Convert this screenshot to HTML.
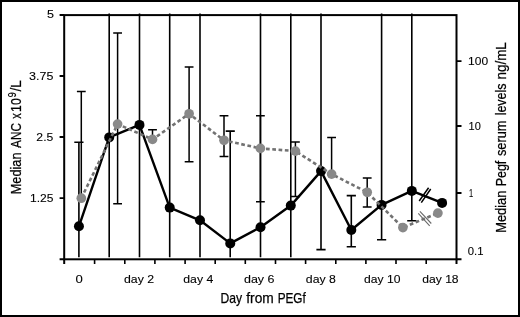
<!DOCTYPE html><html><head><meta charset="utf-8"><style>html,body{margin:0;padding:0;background:#fff;width:520px;height:317px;overflow:hidden}svg{display:block;will-change:transform}text{stroke:#000;stroke-width:0.25px}text.t{stroke-width:0.1px}</style></head><body>
<svg width="520" height="317" viewBox="0 0 520 317" font-family="Liberation Sans, sans-serif">
<rect x="0" y="0" width="520" height="317" fill="#fff"/>
<rect x="1" y="1" width="518" height="315" fill="none" stroke="#000" stroke-width="2"/>
<path d="M78.9 142.2V257.2M74.3 142.2H83.5M109.2 13.6V257.2M139.5 13.6V257.2M169.7 13.6V257.2M200.0 13.6V257.2M230.2 131.1V257.2M225.7 131.1H234.8M260.5 13.6V257.2M290.8 13.6V257.2M321.0 13.6V249.6M316.4 249.6H325.6M351.3 195.6V246.7M346.7 195.6H355.9M346.7 246.7H355.9M381.6 13.6V239.8M377.0 239.8H386.2M411.8 13.6V220.7M407.2 220.7H416.4" stroke="#000" stroke-width="1.6" fill="none"/>
<polyline points="78.94,226.3 109.2,137.4 139.47,124.9 169.73,207.6 199.99,220.3 230.25,243.4 260.52,227.2 290.78,205.6 321.04,171.1 351.31,230 381.57,204.9 411.83,190.9 442.1,202.9" stroke="#000" stroke-width="2.4" fill="none" stroke-linejoin="round"/>
<circle cx="78.94" cy="226.3" r="5" fill="#000"/>
<circle cx="109.2" cy="137.4" r="5" fill="#000"/>
<circle cx="139.47" cy="124.9" r="5" fill="#000"/>
<circle cx="169.73" cy="207.6" r="5" fill="#000"/>
<circle cx="199.99" cy="220.3" r="5" fill="#000"/>
<circle cx="230.25" cy="243.4" r="5" fill="#000"/>
<circle cx="260.52" cy="227.2" r="5" fill="#000"/>
<circle cx="290.78" cy="205.6" r="5" fill="#000"/>
<circle cx="321.04" cy="171.1" r="5" fill="#000"/>
<circle cx="351.31" cy="230" r="5" fill="#000"/>
<circle cx="381.57" cy="204.9" r="5" fill="#000"/>
<circle cx="411.83" cy="190.9" r="5" fill="#000"/>
<circle cx="442.1" cy="202.9" r="5" fill="#000"/>
<path d="M419.2 201L428.6 187.8M421.3 202.6L430.7 189" stroke="#000" stroke-width="1.5"/>
<path d="M81.3 91.6V198.2M76.9 91.6H85.7M117.6 33.1V203.7M113.2 33.1H122.0M113.2 203.7H122.0M152.5 129.8V139.4M148.1 129.8H156.9M189.1 66.9V161.7M184.7 66.9H193.5M184.7 161.7H193.5M224.0 115.8V156.6M219.6 115.8H228.4M219.6 156.6H228.4M260.4 115.8V201.8M256.0 115.8H264.8M256.0 201.8H264.8M295.4 142.1V196.5M291.0 142.1H299.8M291.0 196.5H299.8M331.6 137.4V174.1M327.2 137.4H336.0M367.2 177.9V207.0M362.8 177.9H371.6M362.8 207.0H371.6" stroke="#000" stroke-width="1.5" fill="none"/>
<polyline points="81.30,198.2 117.60,124.1 152.50,139.4 189.10,113.8 224.00,140.3 260.40,148.4 295.40,151.1 331.60,174.1 367.20,192.3 402.90,227.6 437.90,213.1" stroke="#727272" stroke-width="2.6" fill="none" stroke-dasharray="3.7 2.6"/>
<circle cx="81.30" cy="198.2" r="4.85" fill="#898989"/>
<circle cx="117.60" cy="124.1" r="4.85" fill="#898989"/>
<circle cx="152.50" cy="139.4" r="4.85" fill="#898989"/>
<circle cx="189.10" cy="113.8" r="4.85" fill="#898989"/>
<circle cx="224.00" cy="140.3" r="4.85" fill="#898989"/>
<circle cx="260.40" cy="148.4" r="4.85" fill="#898989"/>
<circle cx="295.40" cy="151.1" r="4.85" fill="#898989"/>
<circle cx="331.60" cy="174.1" r="4.85" fill="#898989"/>
<circle cx="367.20" cy="192.3" r="4.85" fill="#898989"/>
<circle cx="402.90" cy="227.6" r="4.85" fill="#898989"/>
<circle cx="437.90" cy="213.1" r="4.85" fill="#898989"/>
<path d="M418.3 213.3L429.7 225.9M419.9 211.3L431.3 223.5" stroke="#6a6a6a" stroke-width="1.1"/>
<rect x="64.2" y="15.1" width="392.3" height="244.2" stroke="#000" stroke-width="2" fill="none"/>
<path d="M59.6 15.1H64.2M64.2 259.3V264M59.6 259.3H64.2M456.5 259.3H461.5M456.5 259.3V264" stroke="#000" stroke-width="2" fill="none"/>
<path d="M59.6 75.98H64M59.6 137.0H64M59.6 198.1H64" stroke="#000" stroke-width="1.8"/>
<path d="M456.5 61.2H461.5M456.5 126H461.5M456.5 193H461.5" stroke="#000" stroke-width="1.8"/>
<path d="M94.6 259V264M124.8 259V264M154.9 259V264M185.1 259V264M215.2 259V264M245.3 259V264M275.5 259V264M305.6 259V264M335.8 259V264M365.9 259V264M396.0 259V264M426.2 259V264" stroke="#000" stroke-width="1.6"/>
<text class="t" x="47.10" y="18.30" font-size="11" textLength="6.98" lengthAdjust="spacingAndGlyphs">5</text>
<text class="t" x="29.10" y="79.60" font-size="11" textLength="24.28" lengthAdjust="spacingAndGlyphs">3.75</text>
<text class="t" x="36.39" y="140.70" font-size="11" textLength="16.90" lengthAdjust="spacingAndGlyphs">2.5</text>
<text class="t" x="29.94" y="202.00" font-size="11" textLength="23.42" lengthAdjust="spacingAndGlyphs">1.25</text>
<text class="t" x="468.14" y="64.50" font-size="11" textLength="20.02" lengthAdjust="spacingAndGlyphs">100</text>
<text class="t" x="468.62" y="130.10" font-size="11" textLength="12.25" lengthAdjust="spacingAndGlyphs">10</text>
<text class="t" x="468.90" y="196.80" font-size="11" textLength="4.14" lengthAdjust="spacingAndGlyphs">1</text>
<text class="t" x="467.75" y="254.60" font-size="11" textLength="15.72" lengthAdjust="spacingAndGlyphs">0.1</text>
<text class="t" x="75.57" y="282.60" font-size="11" textLength="7.30" lengthAdjust="spacingAndGlyphs">0</text>
<text class="t" x="124.01" y="282.60" font-size="11" textLength="30.06" lengthAdjust="spacingAndGlyphs">day 2</text>
<text class="t" x="183.31" y="282.60" font-size="11" textLength="30.01" lengthAdjust="spacingAndGlyphs">day 4</text>
<text class="t" x="244.00" y="282.60" font-size="11" textLength="30.48" lengthAdjust="spacingAndGlyphs">day 6</text>
<text class="t" x="305.81" y="282.60" font-size="11" textLength="30.06" lengthAdjust="spacingAndGlyphs">day 8</text>
<text class="t" x="364.02" y="282.60" font-size="11" textLength="36.40" lengthAdjust="spacingAndGlyphs">day 10</text>
<text class="t" x="422.22" y="282.60" font-size="11" textLength="36.40" lengthAdjust="spacingAndGlyphs">day 18</text>
<text x="220.53" y="302.80" font-size="14.6" textLength="21.57" lengthAdjust="spacingAndGlyphs">Day</text>
<text x="246.26" y="302.80" font-size="14.6" textLength="27.50" lengthAdjust="spacingAndGlyphs">from</text>
<text x="277.66" y="302.80" font-size="14.6" textLength="28.14" lengthAdjust="spacingAndGlyphs">PEGf</text>
<text transform="translate(21.1,0) rotate(-90)" x="-194.22" y="0.00" font-size="15" textLength="41.71" lengthAdjust="spacingAndGlyphs">Median</text>
<text transform="translate(21.1,0) rotate(-90)" x="-147.90" y="0.00" font-size="15" textLength="24.79" lengthAdjust="spacingAndGlyphs">ANC</text>
<text transform="translate(21.1,0) rotate(-90)" x="-118.81" y="0.00" font-size="15" textLength="5.52" lengthAdjust="spacingAndGlyphs">x</text>
<text transform="translate(21.1,0) rotate(-90)" x="-111.89" y="0.00" font-size="15" textLength="13.71" lengthAdjust="spacingAndGlyphs">10</text>
<text transform="translate(21.1,0) rotate(-90)" x="-97.25" y="-4.80" font-size="11.4" textLength="4.96" lengthAdjust="spacingAndGlyphs">9</text>
<text transform="translate(21.1,0) rotate(-90)" x="-91.60" y="0.00" font-size="15" textLength="11.26" lengthAdjust="spacingAndGlyphs">/L</text>
<text transform="translate(505.6,0) rotate(-90)" x="-232.83" y="0.00" font-size="15" textLength="42.23" lengthAdjust="spacingAndGlyphs">Median</text>
<text transform="translate(505.6,0) rotate(-90)" x="-186.29" y="0.00" font-size="15" textLength="25.56" lengthAdjust="spacingAndGlyphs">Pegf</text>
<text transform="translate(505.6,0) rotate(-90)" x="-156.08" y="0.00" font-size="15" textLength="35.56" lengthAdjust="spacingAndGlyphs">serum</text>
<text transform="translate(505.6,0) rotate(-90)" x="-115.37" y="0.00" font-size="15" textLength="31.83" lengthAdjust="spacingAndGlyphs">levels</text>
<text transform="translate(505.6,0) rotate(-90)" x="-79.54" y="0.00" font-size="15" textLength="37.33" lengthAdjust="spacingAndGlyphs">ng/mL</text>
</svg></body></html>
